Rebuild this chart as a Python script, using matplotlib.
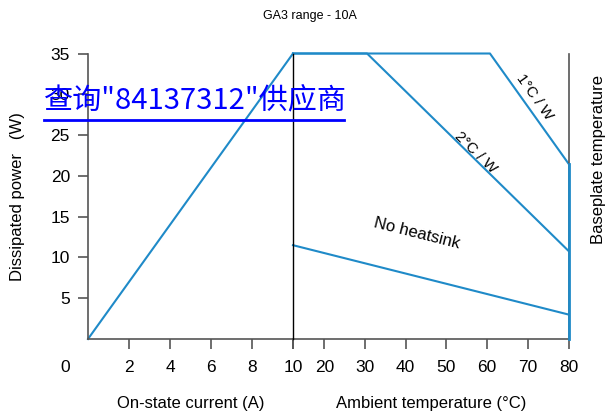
import matplotlib.pyplot as plt

plt.rcParams['font.family'] = ['Liberation Sans', 'DejaVu Sans']

BLUE = '#1f8ac8'
GREY = '#555555'

# left panel: dissipated power vs on-state current
current = [0, 10]
power_current = [0, 35]

# right panel: dissipated power vs ambient temperature
t_start = 12.3  # where the ambient axis starts (labelled "10")
temp_1cw = [t_start, 60.7, 80]
power_1cw = [35, 35, 21.5]
temp_2cw = [t_start, 30.5, 80]
power_2cw = [35, 35, 10.8]
temp_nohs = [t_start, 80]
power_nohs = [11.5, 3.0]
baseplate_temp = [80, 80]
baseplate_power = [0, 21.5]

y_ticks = [5, 10, 15, 20, 25, 30, 35]
current_ticks = [2, 4, 6, 8, 10]
temp_ticks = [20, 30, 40, 50, 60, 70, 80]

fig = plt.figure(figsize=(6.07, 4.17), dpi=100)
W, H = 607, 417

def px_axes(x0, x1, y0, y1):
    return fig.add_axes([x0 / W, 1 - y1 / H, (x1 - x0) / W, (y1 - y0) / H])

ax1 = px_axes(88, 293, 53.5, 339)
ax2 = px_axes(293, 568.5, 53.5, 339)

TICK = 12.5
LAB = 12

# left panel
ax1.plot(current, power_current, color=BLUE, lw=1.5, clip_on=False)
ax1.set_xlim(0, 10)
ax1.set_ylim(0, 35)
ax1.set_xticks(current_ticks)
ax1.set_xticklabels([str(c) for c in current_ticks[:-1]] + [''])
ax1.set_yticks(y_ticks)
ax1.spines['top'].set_visible(False)
ax1.spines['right'].set_visible(False)
for s in ['left', 'bottom']:
    ax1.spines[s].set_color(GREY)
    ax1.spines[s].set_linewidth(1.2)
ax1.tick_params(direction='out', length=7, width=1.2, color=GREY,
                labelsize=TICK)
ax1.tick_params(axis='x', pad=8)
ax1.tick_params(axis='y', pad=6)
ax1.set_xlabel('On-state current (A)', fontsize=LAB, labelpad=15)
ax1.set_ylabel('Dissipated power   (W)', fontsize=LAB, labelpad=18)

# right panel
ax2.plot(temp_1cw, power_1cw, color=BLUE, lw=1.5, clip_on=False)
ax2.plot(temp_2cw, power_2cw, color=BLUE, lw=1.5, clip_on=False)
ax2.plot(temp_nohs, power_nohs, color=BLUE, lw=1.5, clip_on=False)
ax2.plot(baseplate_temp, baseplate_power, color=BLUE, lw=2.0, clip_on=False, zorder=5)
ax2.axvline(t_start, color='black', lw=1.0, clip_on=False, zorder=4)
ax2.set_xlim(t_start, 80)
ax2.set_ylim(0, 35)
ax2.set_xticks([t_start] + temp_ticks)
ax2.set_xticklabels(['10'] + [str(t) for t in temp_ticks])
ax2.set_yticks([])
ax2.spines['top'].set_visible(False)
ax2.spines['left'].set_visible(False)
ax2.spines['right'].set_color(GREY)
ax2.spines['right'].set_linewidth(1.2)
ax2.spines['bottom'].set_color(GREY)
ax2.spines['bottom'].set_linewidth(1.2)
ax2.tick_params(axis='x', direction='out', length=7, width=1.2, color=GREY,
                labelsize=TICK, pad=8)
ax2.set_xlabel('Ambient temperature (°C)', fontsize=LAB, labelpad=15)
ax2.yaxis.set_label_position('right')
ax2.set_ylabel('Baseplate temperature', fontsize=LAB, labelpad=16)
ax2.yaxis.label.set_y(0.63)

ax2.text(71.7, 29.6, '1°C / W', rotation=-54.6, fontsize=11,
         ha='center', va='center', rotation_mode='anchor')
ax2.text(57.2, 22.9, '2°C / W', rotation=-44.4, fontsize=11,
         ha='center', va='center', rotation_mode='anchor')
ax2.text(42.8, 13.0, 'No heatsink', rotation=-14.1, fontsize=12,
         ha='center', va='center', rotation_mode='anchor')

# shared origin label
fig.text(65 / W, 1 - 367 / H, '0', fontsize=TICK, ha='center', va='center')

fig.text(310 / W, 1 - 16 / H, 'GA3 range - 10A', fontsize=9,
         ha='center', va='center')

# watermark
fig.text(44 / W, 1 - 100 / H, '查询"84137312"供应商', fontsize=21, color='#0000ff',
         family=['Noto Sans CJK SC', 'DejaVu Sans'], ha='left', va='center')
fig.add_artist(plt.Line2D([44 / W, 344 / W], [1 - 120 / H, 1 - 120 / H],
                          color='#0000ff', lw=2))

fig.savefig('out.png', dpi=100)
